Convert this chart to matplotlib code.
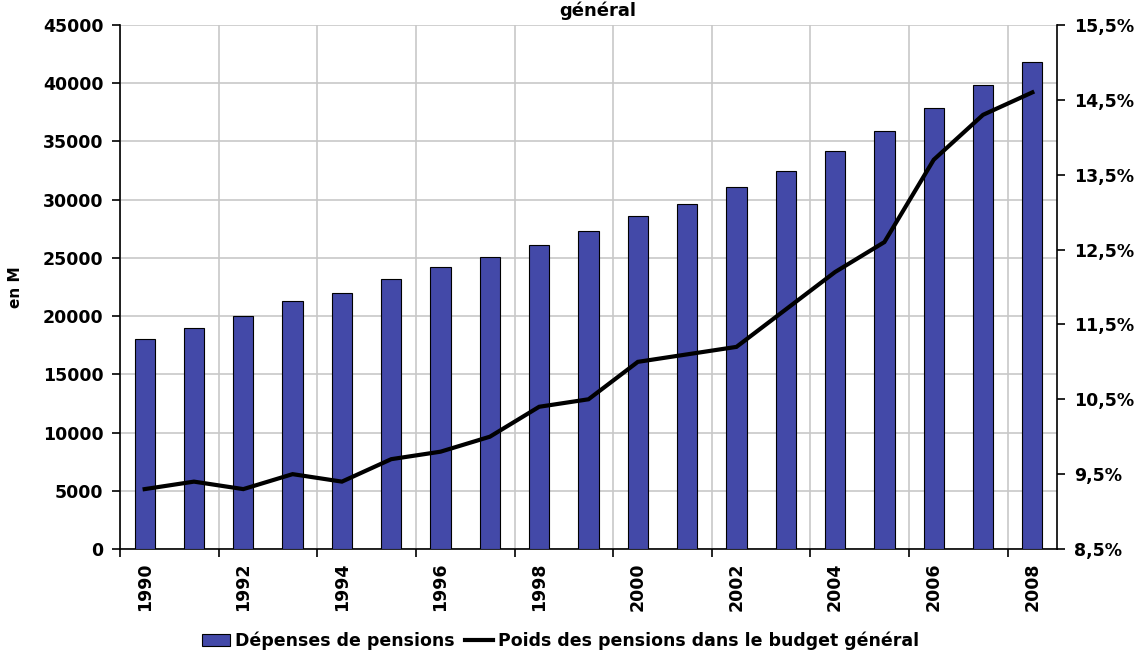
import matplotlib.pyplot as plt
from matplotlib.ticker import FixedLocator, FuncFormatter

years = list(range(1990, 2009))
depenses = [18050, 18950, 20050, 21280, 22000, 23200, 24250, 25100, 26130, 27270,
            28580, 29650, 31050, 32440, 34160, 35930, 37900, 39860, 41800]
poids = [9.3, 9.4, 9.3, 9.5, 9.4, 9.7, 9.8, 10.0, 10.4, 10.5,
         11.0, 11.1, 11.2, 11.7, 12.2, 12.6, 13.7, 14.3, 14.6]

label_bars = "Dépenses de pensions"
label_line = "Poids des pensions dans le budget général"

plt.rcParams['font.family'] = ['DejaVu Sans']
plt.rcParams['font.weight'] = 'bold'

fig = plt.figure(figsize=(11.39, 6.55), dpi=100)
ax = fig.add_axes([120 / 1139, 106 / 655, 937 / 1139, 524 / 655])

x = list(range(len(years)))
bars = ax.bar(x, depenses, width=0.41, color="#4349A8", edgecolor="black",
              linewidth=0.8, zorder=3, label=label_bars)

ax.set_xlim(-0.5, len(years) - 0.5)
ax.set_ylim(0, 45000)
ax.set_yticks(range(0, 45001, 5000))
ax.grid(axis='y', color="#C8C8C8", linewidth=1.2, zorder=0)

# labels on every other year, tick marks between categories
ax.xaxis.set_major_locator(FixedLocator(x[::2]))
ax.set_xticklabels([str(y) for y in years[::2]], rotation=90)
ax.xaxis.set_minor_locator(FixedLocator([i - 0.5 for i in x[::2]]))
ax.tick_params(axis='x', which='major', length=0, pad=10, labelsize=12.5)
ax.tick_params(axis='x', which='minor', length=6, width=1.2, direction='out')
ax.grid(axis='x', which='minor', color="#C8C8C8", linewidth=1.2, zorder=0)
ax.tick_params(axis='y', length=6, width=1.2, direction='out', labelsize=12.5, pad=6)
ax.set_ylabel("en M", fontsize=11, fontweight='bold', labelpad=14)

for side in ['left', 'bottom']:
    ax.spines[side].set_linewidth(1.2)
ax.spines['top'].set_visible(False)
ax.spines['right'].set_visible(False)

ax2 = ax.twinx()
line, = ax2.plot(x, poids, color="black", linewidth=3, zorder=4,
                 solid_joinstyle='miter', label=label_line)
ax2.set_ylim(8.5, 15.5)
ax2.set_yticks([8.5 + i for i in range(8)])
ax2.yaxis.set_major_formatter(FuncFormatter(lambda v, p: ("%.1f%%" % v).replace('.', ',')))
ax2.tick_params(axis='y', length=6, width=1.2, direction='out', labelsize=12.5, pad=6)
ax2.spines['right'].set_linewidth(1.2)
ax2.spines['top'].set_visible(False)
ax2.spines['left'].set_visible(False)
ax2.spines['bottom'].set_visible(False)

fig.text(598 / 1139, 1 - 1 / 655, "général", ha='center', va='top',
         fontsize=13, fontweight='bold')

fig.legend([bars, line], [label_bars, label_line], loc='center',
           bbox_to_anchor=(561 / 1139, 1 - 641 / 655), ncol=2, frameon=False,
           fontsize=12.5, handlelength=1.6, handletextpad=0.3, columnspacing=0.6)

fig.savefig("out.png", dpi=100)
